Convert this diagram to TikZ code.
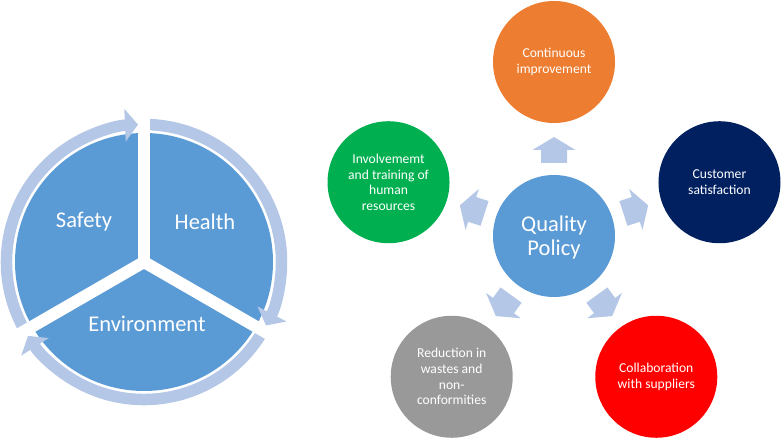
\documentclass[tikz,border=0pt]{standalone}
\usepackage{fontspec}
\setmainfont{Carlito}
\usetikzlibrary{arrows.meta,calc}
\definecolor{pieblue}{HTML}{5B9BD5}
\definecolor{ringblue}{HTML}{B4C7E7}
\definecolor{qorange}{HTML}{ED7D31}
\definecolor{qnavy}{HTML}{002060}
\definecolor{qred}{HTML}{FF0000}
\definecolor{qgrey}{HTML}{999999}
\definecolor{qgreen}{HTML}{00B050}
\tikzset{
  pie/.style    ={circle, fill=pieblue, minimum size=258pt, inner sep=0pt},
  ringarc/.style={draw=ringblue, line width=11.5pt, -{Triangle[length=13pt,width=32pt]}},
  cut/.style    ={draw=white, line width=12pt},
  big/.style    ={text=white, align=center, font=\fontsize{22.5}{24}\selectfont},
  sat/.style    ={circle, minimum size=122pt, inner sep=0pt, text=white, align=center,
                  font=\fontsize{13.6}{15.7}\selectfont},
  blk/.style    ={fill=ringblue},
}

\begin{document}
\begin{tikzpicture}[x=1pt,y=1pt]
  \useasboundingbox (0,0) rectangle (783,441);
  % cycle: safety, health, environment
  \node[pie] (pie) at (144,179) {};
  \foreach \g in {90,-30,210}{
    \pgfmathsetmacro\ga{\g+120}
    \pgfmathsetmacro\gb{\g+2.5}
    \draw[ringarc] ($(pie.center)+(\ga:137.5)$) arc (\ga:\gb:137.5);
  }
  \foreach \g in {90,-30,210}
    \draw[cut] (pie.center) -- ++(\g:156);
  \node[big] (safety) at (84,219) {Safety};
  \node[big] (health) at (205,219) {Health};
  \node[big] (env) at (147,117) {Environment};

  % quality policy
  \node[pie, minimum size=122pt, big] (q) at (554,205) {};
  \node[big] (qtext) at ([yshift=-2pt]q.center) {Quality\\Policy};
  \node[sat, fill=qorange] (improve)   at ($(q)+(90:174)$)   {Continuous\\improvement};
  \node[sat, fill=qnavy]   (customer)  at ($(q)+(18:174)$)   {Customer\\satisfaction};
  \node[sat, fill=qred]    (suppliers) at ($(q)+(-54:174)$)  {Collaboration\\with suppliers};
  \node[sat, fill=qgrey]   (wastes)    at ($(q)+(-126:174)$) {Reduction in\\wastes and\\non-\\conformities};
  \node[sat, fill=qgreen]  (people)    at ($(q)+(162:174)$)  {Involvememt\\and training of\\human\\resources};
  \foreach \a in {90,18,-54,-126,162}
    \fill[blk, shift={(q)}, rotate=\a]
      (73,-13) -- (86,-13) -- (86,-21.5) -- (99,0) -- (86,21.5) -- (86,13) -- (73,13) -- cycle;
\end{tikzpicture}
\end{document}
